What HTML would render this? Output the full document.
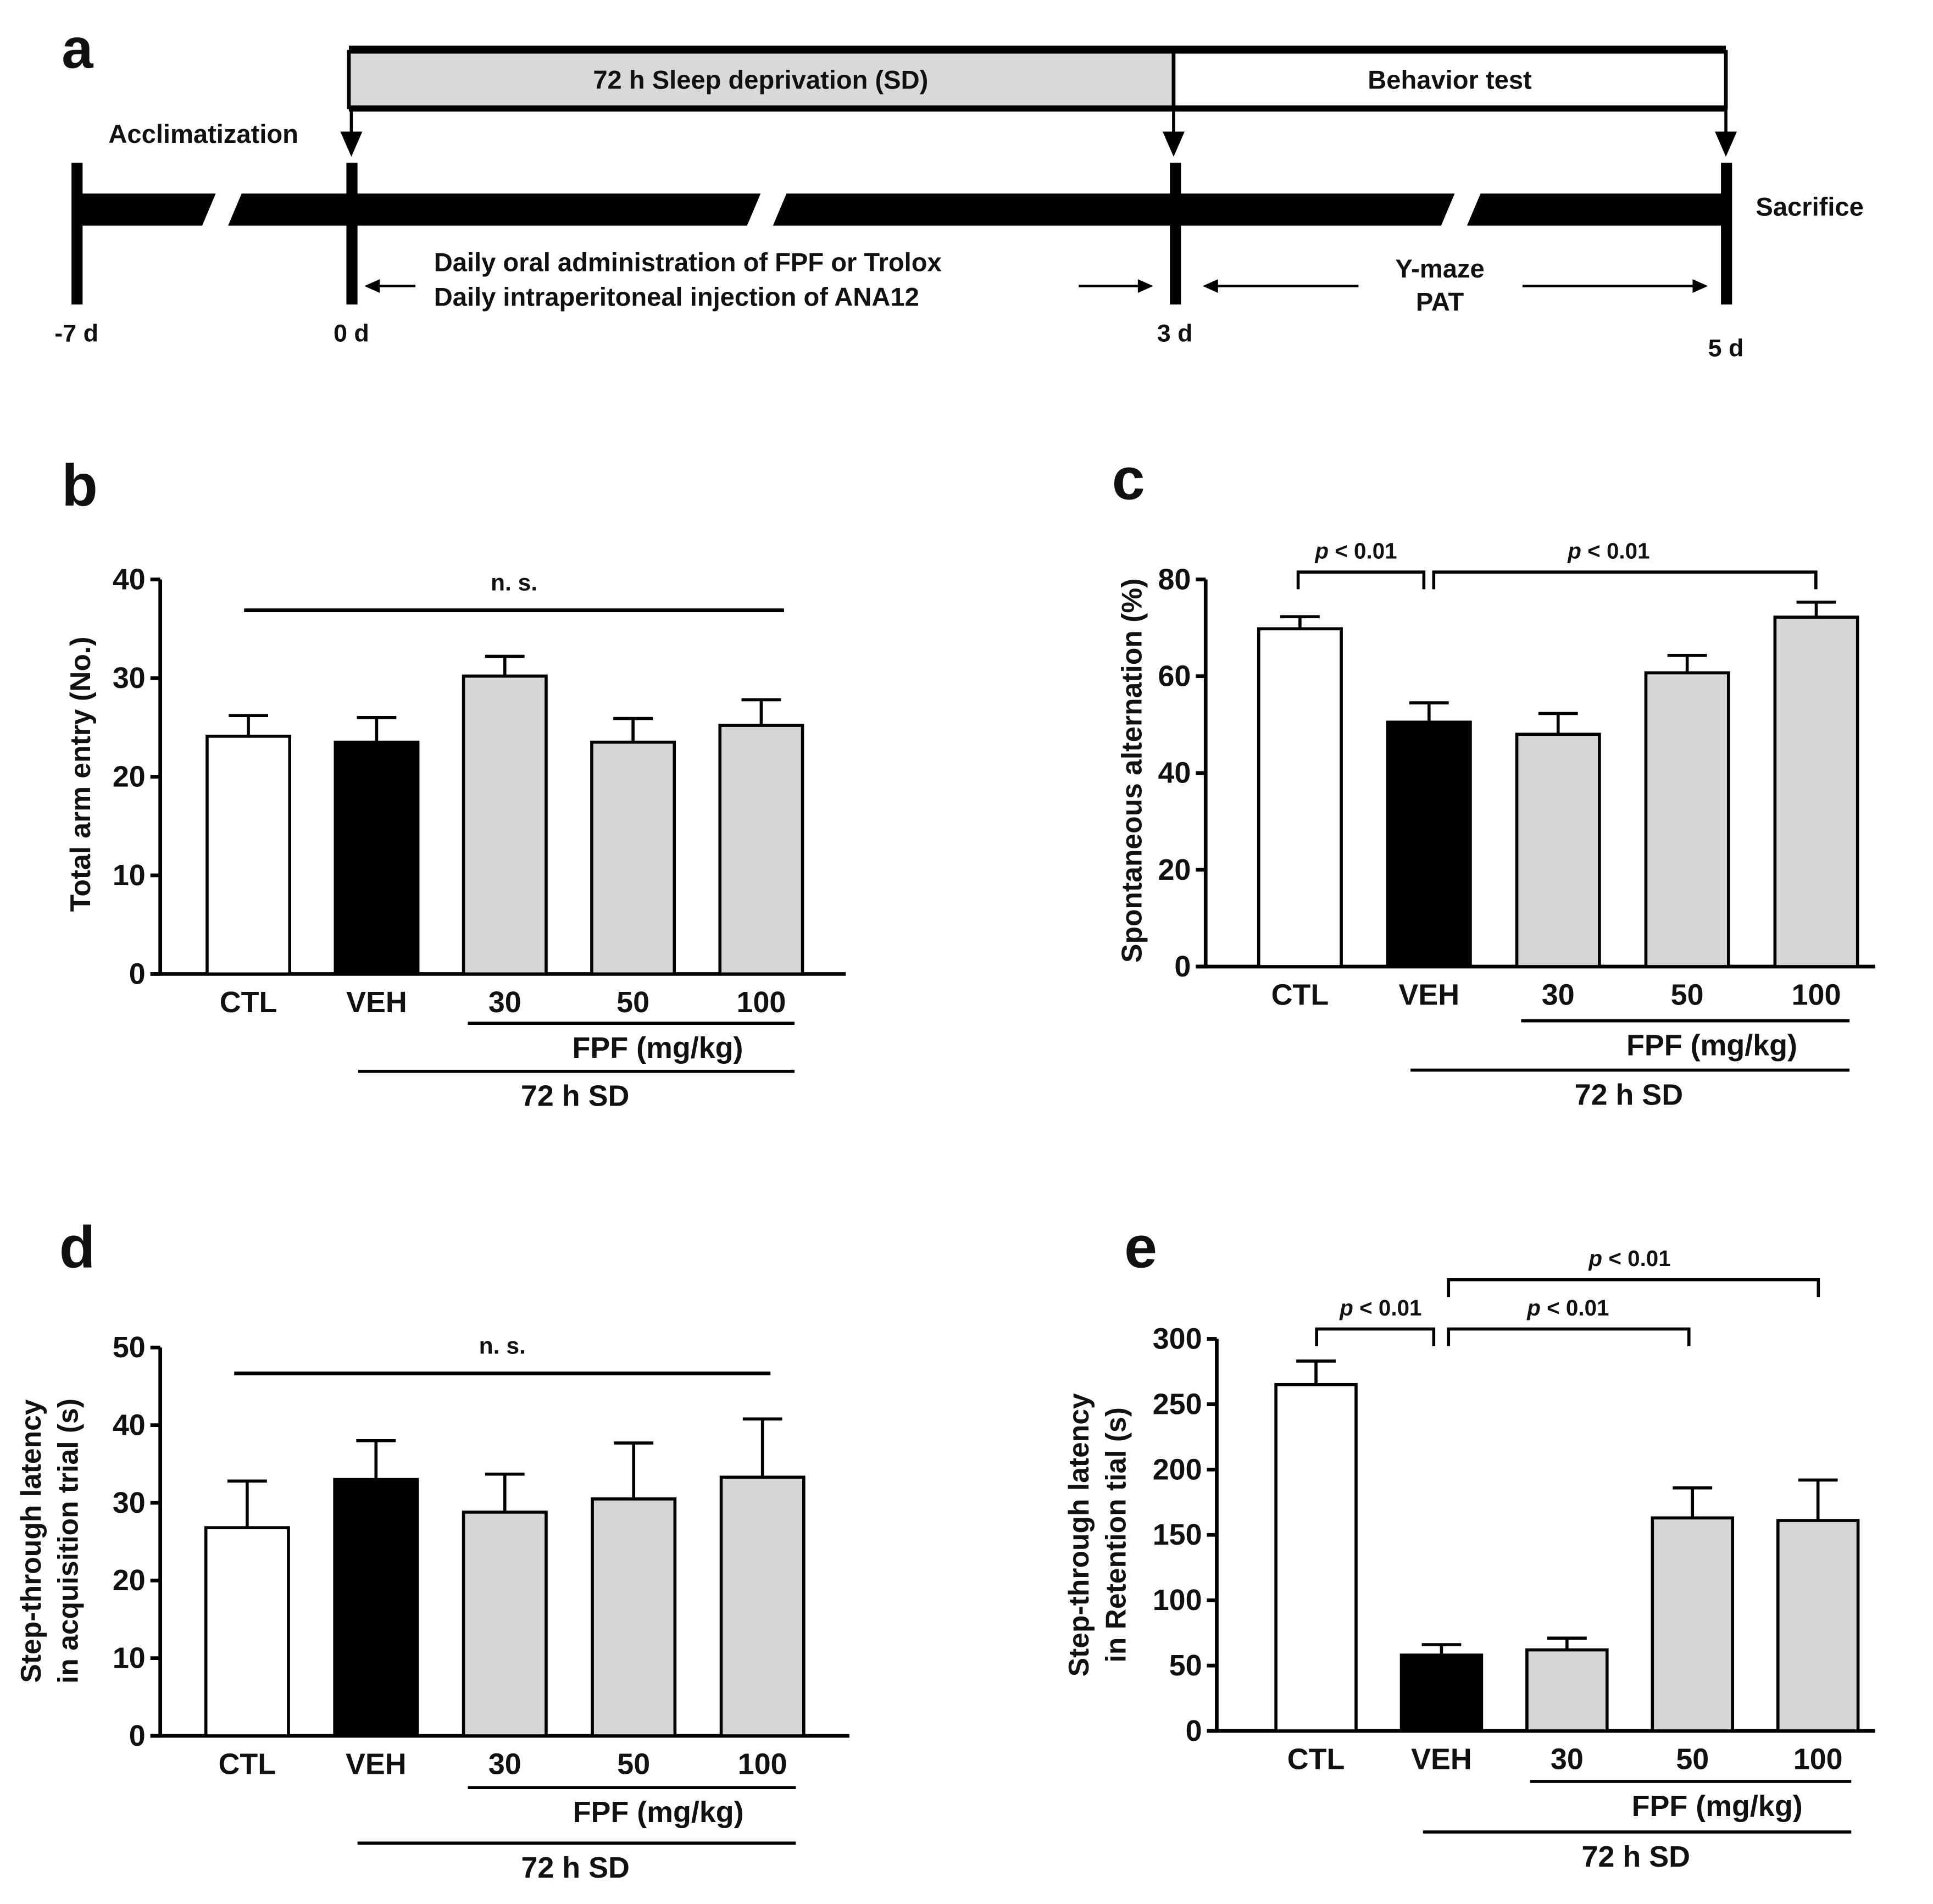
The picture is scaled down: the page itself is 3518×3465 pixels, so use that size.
<!DOCTYPE html>
<html><head><meta charset="utf-8"><style>
html,body{margin:0;padding:0;background:#fff;}
svg{display:block;}
text{font-family:"Liberation Sans",Arial,sans-serif;font-weight:bold;fill:#111;}
</style></head><body>
<svg id="fig" xmlns="http://www.w3.org/2000/svg" width="3518" height="3465" viewBox="0 0 1568 1544.4" preserveAspectRatio="none">
<g id="panelA">
  <text x="50" y="55" font-size="46">a</text>
  <rect x="283" y="42" width="669" height="45" fill="#d9d9d9" stroke="#000" stroke-width="3"/>
  <rect x="952" y="42" width="448" height="45" fill="#fff" stroke="#000" stroke-width="3"/>
  <line x1="283" y1="40" x2="1400" y2="40" stroke="#000" stroke-width="6"/>
  <line x1="283" y1="88" x2="1400" y2="88" stroke="#000" stroke-width="5"/>
  <text x="617" y="72" font-size="21" text-anchor="middle">72 h Sleep deprivation (SD)</text>
  <text x="1176" y="72" font-size="21" text-anchor="middle">Behavior test</text>
  <g stroke="#000" stroke-width="2.5" fill="#000">
    <line x1="285" y1="88" x2="285" y2="112"/><polygon points="278,108 292,108 285,124"/>
    <line x1="952" y1="88" x2="952" y2="112"/><polygon points="945,108 959,108 952,124"/>
    <line x1="1400" y1="88" x2="1400" y2="112"/><polygon points="1393,108 1407,108 1400,124"/>
  </g>
  <text x="165" y="116" font-size="21" text-anchor="middle">Acclimatization</text>
  <g fill="#000">
    <polygon points="62,157 175,157 164,183 62,183"/>
    <polygon points="196,157 617,157 606,183 185,183"/>
    <polygon points="638,157 1180,157 1169,183 627,183"/>
    <polygon points="1201,157 1400,157 1400,183 1190,183"/>
  </g>
  <g fill="#000">
    <rect x="58" y="132" width="9" height="115"/><rect x="281" y="132" width="9" height="115"/>
    <rect x="949" y="132" width="9" height="115"/><rect x="1396" y="132" width="9" height="115"/>
  </g>
  <g font-size="20" text-anchor="middle">
    <text x="62" y="277">-7 d</text>
    <text x="285" y="277">0 d</text>
    <text x="953" y="277">3 d</text>
    <text x="1400" y="289">5 d</text>
  </g>
  <text x="1468" y="175" font-size="21" text-anchor="middle">Sacrifice</text>
  <text x="352" y="220" font-size="21">Daily oral administration of FPF or Trolox</text>
  <text x="352" y="248" font-size="21">Daily intraperitoneal injection of ANA12</text>
  <text x="1168" y="225" font-size="21" text-anchor="middle">Y-maze</text>
  <text x="1168" y="252" font-size="21" text-anchor="middle">PAT</text>
  <g stroke="#000" stroke-width="2" fill="#000">
    <line x1="337" y1="232" x2="304" y2="232"/><polygon points="298,232 307,228 307,236"/>
    <line x1="875" y1="232" x2="927" y2="232"/><polygon points="933,232 924,228 924,236"/>
    <line x1="1102" y1="232" x2="984" y2="232"/><polygon points="978,232 987,228 987,236"/>
    <line x1="1235" y1="232" x2="1377" y2="232"/><polygon points="1383,232 1374,228 1374,236"/>
  </g>
</g>
</svg>
<script>
// ---- data ----
const categories = ["CTL","VEH","30","50","100"];
const fills = ["#fff","#000","#d6d6d6","#d6d6d6","#d6d6d6"];
const bValues = [24.1, 23.5, 30.2, 23.5, 25.2];
const bErrors = [2.1, 2.5, 2.0, 2.4, 2.6];
const bTicks = [0,10,20,30,40];
const cValues = [69.8, 50.5, 48.0, 60.7, 72.2];
const cErrors = [2.5, 4.0, 4.3, 3.6, 3.1];
const cTicks = [0,20,40,60,80];
const dValues = [26.8, 33.0, 28.8, 30.5, 33.3];
const dErrors = [6.0, 5.0, 4.9, 7.2, 7.5];
const dTicks = [0,10,20,30,40,50];
const eValues = [265, 58, 62, 163, 161];
const eErrors = [18, 8, 9, 23, 31];
const eTicks = [0,50,100,150,200,250,300];

const NS = "http://www.w3.org/2000/svg";
const svg = document.getElementById('fig');
function mk(tag, attrs, parent, txt){
  const e = document.createElementNS(NS, tag);
  for (const k in attrs) e.setAttribute(k, attrs[k]);
  if (txt !== undefined) e.textContent = txt;
  (parent||svg).appendChild(e);
  return e;
}
function panel(p){
  const g = mk('g', {});
  
  
  const y = v => p.y0 - (v - p.ticks[0]) / (p.ticks[p.ticks.length-1] - p.ticks[0]) * (p.y0 - p.yTop);
  const lbl = mk('text', {x:p.letterX, y:p.letterY, 'font-size':48}, g, p.id);
  
  
  const ya = mk('line', {x1:p.ax, y1:y(p.ticks[p.ticks.length-1]), x2:p.ax, y2:p.y0, stroke:'#000','stroke-width':3}, g);
  
  
  const xa = mk('line', {x1:p.ax-8, y1:p.y0, x2:p.axEnd, y2:p.y0, stroke:'#000','stroke-width':3}, g);
  
  
  p.ticks.forEach(t => {
    mk('line', {x1:p.ax-8, y1:y(t), x2:p.ax, y2:y(t), stroke:'#000','stroke-width':3}, g);
    const tl = mk('text', {x:p.ax-12, y:y(t)+8, 'font-size':24, 'text-anchor':'end'}, g, String(t));
    
    
  });
  const yt = mk('text', {transform:`translate(${p.ytX},${p.ytY}) rotate(-90)`, 'font-size':23, 'text-anchor':'middle'}, g);
  
  
  p.ytitle.forEach((s,i) => mk('tspan', {x:0, dy: i===0 ? (p.ytitle.length>1 ? -15 : 0) : 30}, yt, s));
  categories.forEach((c,i) => {
    const x = p.barX0 + i * p.barStep, cx = x + p.barW/2;
    const top = y(p.values[i]), et = y(p.values[i] + p.errors[i]);
    const el = mk('line', {x1:cx, y1:top, x2:cx, y2:et, stroke:'#000','stroke-width':2.5}, g);
    
    
    mk('line', {x1:cx-16, y1:et, x2:cx+16, y2:et, stroke:'#000','stroke-width':2.5}, g);
    const r = mk('rect', {x:x, y:top, width:p.barW, height:p.y0-top, fill:fills[i], stroke:'#000','stroke-width':2.5}, g);
    
    
    const t = mk('text', {x:cx, y:p.y0+31, 'font-size':24, 'text-anchor':'middle'}, g, c);
    
    
  });
  const cx = i => p.barX0 + i*p.barStep + p.barW/2;
  mk('line', {x1:cx(2)-30, y1:p.y0+p.fpfDy, x2:cx(4)+27, y2:p.y0+p.fpfDy, stroke:'#000','stroke-width':2.5}, g);
  const f = mk('text', {x:(cx(2)+cx(4))/2+20, y:p.y0+p.fpfDy+28, 'font-size':24, 'text-anchor':'middle'}, g, 'FPF (mg/kg)');
  
  
  mk('line', {x1:cx(1)-15, y1:p.y0+p.sdDy, x2:cx(4)+27, y2:p.y0+p.sdDy, stroke:'#000','stroke-width':2.5}, g);
  const s = mk('text', {x:(cx(1)+cx(4))/2+5, y:p.y0+p.sdDy+28, 'font-size':24, 'text-anchor':'middle'}, g, '72 h SD');
  
  
  (p.ns ? [p.ns] : []).forEach(n => {
    mk('line', {x1:n.x1, y1:n.y, x2:n.x2, y2:n.y, stroke:'#000','stroke-width':3}, g);
    const t = mk('text', {x:(n.x1+n.x2)/2, y:n.y-16, 'font-size':19, 'text-anchor':'middle'}, g, 'n. s.');
    
    
  });
  (p.brackets||[]).forEach(b => {
    const pl = mk('polyline', {points:`${b.x1},${b.y+14} ${b.x1},${b.y} ${b.x2},${b.y} ${b.x2},${b.y+14}`, fill:'none', stroke:'#000','stroke-width':2.5}, g);
    
    
    const t = mk('text', {x:b.tx, y:b.y-11, 'font-size':18, 'text-anchor':'middle'}, g);
    
    
    mk('tspan', {'font-style':'italic'}, t, 'p');
    mk('tspan', {}, t, '  < 0.01');
  });
}
panel({id:'b', values:bValues, errors:bErrors, ticks:bTicks, ax:130, axEnd:686, y0:790, yTop:470,
  barX0:168, barW:67, barStep:104, letterX:50, letterY:410, ytX:73, ytY:628, ytitle:['Total arm entry (No.)'],
  fpfDy:40, sdDy:79, ns:{x1:198, x2:636, y:495}});
panel({id:'c', values:cValues, errors:cErrors, ticks:cTicks, ax:978, axEnd:1521, y0:784, yTop:470,
  barX0:1021, barW:67, barStep:104.7, letterX:902, letterY:405, ytX:926, ytY:625, ytitle:['Spontaneous alternation (%)'],
  fpfDy:44, sdDy:84, brackets:[{x1:1053,x2:1155,y:464,tx:1100},{x1:1163,x2:1473,y:464,tx:1305}]});
panel({id:'d', values:dValues, errors:dErrors, ticks:dTicks, ax:130, axEnd:689, y0:1408, yTop:1093,
  barX0:167, barW:67, barStep:104.5, letterX:48, letterY:1028, ytX:48, ytY:1250, ytitle:['Step-through latency','in acquisition trial (s)'],
  fpfDy:42, sdDy:87, ns:{x1:190, x2:625, y:1114}});
panel({id:'e', values:eValues, errors:eErrors, ticks:eTicks, ax:987, axEnd:1521, y0:1404, yTop:1086,
  barX0:1035, barW:65, barStep:101.8, letterX:912, letterY:1028, ytX:898, ytY:1245, ytitle:['Step-through latency','in Retention tial (s)'],
  fpfDy:41, sdDy:82, brackets:[{x1:1068,x2:1163,y:1078,tx:1120},{x1:1175,x2:1370,y:1078,tx:1272},{x1:1175,x2:1475,y:1038,tx:1322}]});
</script>
</body></html>
